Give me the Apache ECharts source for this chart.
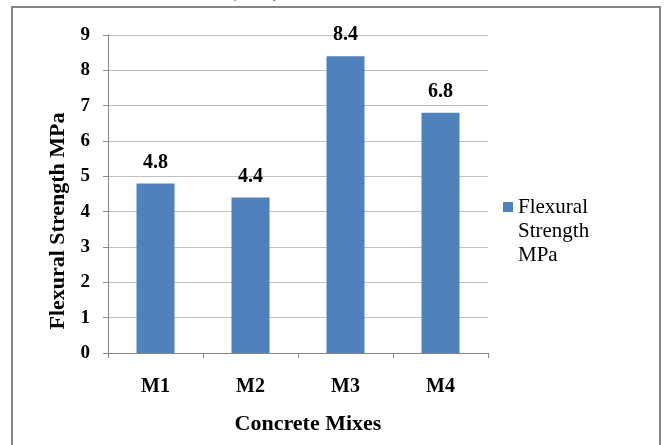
<!DOCTYPE html>
<html>
<head>
<meta charset="utf-8">
<script src="https://cdn.jsdelivr.net/npm/echarts@6/dist/echarts.min.js"></script>
<style>
  html, body { margin: 0; padding: 0; background: #fff; }
  #chart { width: 664px; height: 445px; }
</style>
</head>
<body>
<div id="chart"></div>
<script>
// Flexural strength of each concrete mix
const mixes = ['M1', 'M2', 'M3', 'M4'];
const flexuralStrength = [4.8, 4.4, 8.4, 6.8];
const seriesName = 'Flexural Strength MPa';
const yTicks = [0, 1, 2, 3, 4, 5, 6, 7, 8, 9];

const serif = "'Liberation Serif', 'Times New Roman', serif";
const chart = echarts.init(document.getElementById('chart'), null, { renderer: 'canvas' });

chart.setOption({
  backgroundColor: '#ffffff',
  animation: false,
  grid: { left: 108, top: 35, right: 176, bottom: 92 },
  graphic: [
    {
      type: 'rect',
      shape: { x: 12, y: 7, width: 648, height: 460 },
      style: { fill: 'none', stroke: '#868686', lineWidth: 2 },
      silent: true
    },
    {
      type: 'text',
      left: 230, top: -17,
      style: { text: '(MPa)', font: 'bold 18px ' + serif, fill: '#000' },
      silent: true
    }
  ],
  legend: {
    left: 503,
    top: 147,
    padding: 0,
    orient: 'vertical',
    itemWidth: 10,
    itemHeight: 10,
    icon: 'rect',
    data: [seriesName],
    // one word per line; two blank lines above keep the swatch level with the first word
    formatter: name => '\n\n' + name.split(' ').join('\n'),
    textStyle: {
      fontFamily: serif,
      fontSize: 21,
      color: '#000',
      lineHeight: 24
    }
  },
  xAxis: {
    type: 'category',
    data: mixes,
    name: 'Concrete Mixes',
    nameLocation: 'middle',
    nameGap: 60,
    nameTextStyle: { fontFamily: serif, fontSize: 22, fontWeight: 'bold', color: '#000', padding: [0, 0, 0, 20] },
    axisLine: { lineStyle: { color: '#868686', width: 1 } },
    axisTick: { show: true, length: 5, lineStyle: { color: '#868686' } },
    axisLabel: { fontFamily: serif, fontSize: 20, fontWeight: 'bold', color: '#000', margin: 24 }
  },
  yAxis: {
    type: 'value',
    min: yTicks[0],
    max: yTicks[yTicks.length - 1],
    interval: 1,
    name: seriesName,
    nameLocation: 'middle',
    nameRotate: 90,
    nameGap: 35,
    nameTextStyle: { fontFamily: serif, fontSize: 22, fontWeight: 'bold', color: '#000', padding: [0, 54, 0, 0] },
    axisLine: { show: true, lineStyle: { color: '#868686', width: 1 } },
    axisTick: { show: true, length: 5, lineStyle: { color: '#868686' } },
    axisLabel: { fontFamily: serif, fontSize: 19, fontWeight: 'bold', color: '#000', margin: 18 },
    splitLine: { show: true, lineStyle: { color: '#bfbfbf', width: 1 } }
  },
  series: [{
    name: seriesName,
    type: 'bar',
    data: flexuralStrength,
    barWidth: '40%',
    itemStyle: { color: '#4f81bd' },
    label: {
      show: true,
      position: 'top',
      distance: 11,
      fontFamily: serif,
      fontSize: 20,
      fontWeight: 'bold',
      color: '#000',
      formatter: p => p.value.toFixed(1)
    }
  }]
});
</script>
</body>
</html>
